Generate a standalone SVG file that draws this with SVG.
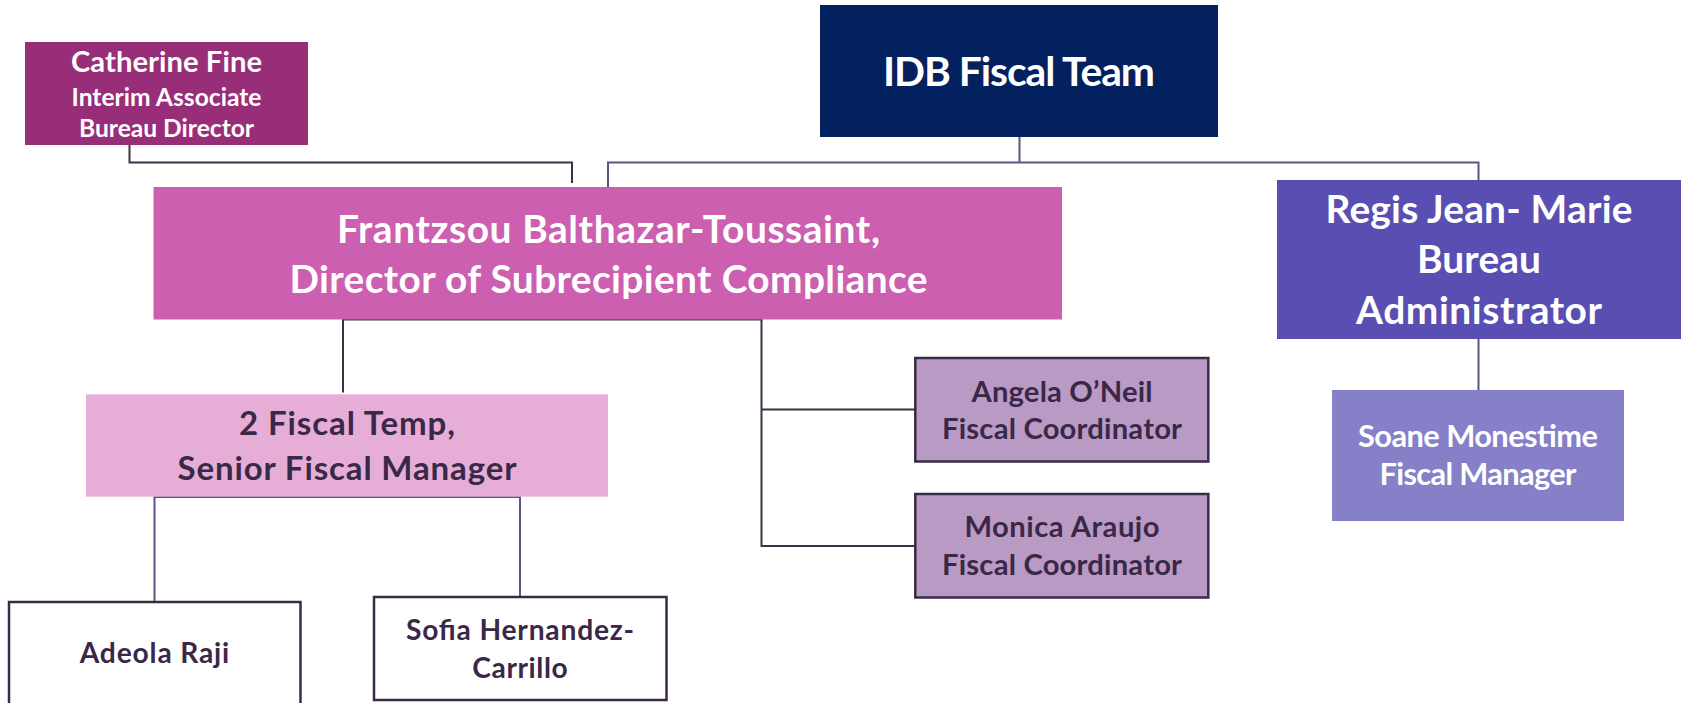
<svg xmlns="http://www.w3.org/2000/svg" width="1684" height="703" viewBox="0 0 1684 703">
  <style>
    text { font-family: Lato, "Open Sans", "Liberation Sans", sans-serif; font-weight: 700; text-anchor: middle; }
    .light { fill: #ffffff; }
    .dark { fill: #3a2848; }
    .wire { fill: none; stroke: #5a5787; stroke-width: 2; }
    .wire-dark { fill: none; stroke: #3d3147; stroke-width: 2; }
    .framed { stroke: #3a2a45; stroke-width: 2.5; }
  </style>
  <rect width="1684" height="703" fill="#ffffff"/>

  <!-- reporting lines -->
  <g id="connectors">
    <path class="wire-dark" d="M129.5 145 V162.5 H572 V183"/>
    <path class="wire" d="M1019.5 137 V162.5 M608 187 V162.5 H1478.5 V180"/>
    <path class="wire" d="M1478.5 339 V390"/>
    <path class="wire-dark" d="M343 392.5 V319.5 H761.5 V546 H915 M761.5 409.5 H915"/>
    <path class="wire" d="M154.5 601.5 V497 H520 V596.5"/>
  </g>

  <g id="catherine-fine">
    <rect x="25" y="42" width="283" height="103" fill="#992e78"/>
    <text class="light" x="166.5" y="71.7" font-size="29.2" textLength="191">Catherine Fine</text>
    <text class="light" x="166.5" y="106" font-size="24.6" textLength="190">Interim Associate</text>
    <text class="light" x="166.5" y="137.3" font-size="24.6" textLength="175">Bureau Director</text>
  </g>

  <g id="idb-fiscal-team">
    <rect x="820" y="5" width="398" height="132" fill="#03215f"/>
    <text class="light" x="1019" y="86" font-size="40.8" textLength="272">IDB Fiscal Team</text>
  </g>

  <g id="frantzsou-balthazar-toussaint">
    <rect x="153.5" y="187" width="908.5" height="132.5" fill="#cc5fb0"/>
    <text class="light" x="608.5" y="242.7" font-size="38.9" textLength="543">Frantzsou Balthazar-Toussaint,</text>
    <text class="light" x="608.5" y="292.7" font-size="38.9" textLength="638">Director of Subrecipient Compliance</text>
  </g>

  <g id="regis-jean-marie">
    <rect x="1277" y="180" width="404" height="159" fill="#594fb2"/>
    <text class="light" x="1479" y="222.7" font-size="38.9" textLength="307">Regis Jean- Marie</text>
    <text class="light" x="1479" y="273" font-size="38.9" textLength="124">Bureau</text>
    <text class="light" x="1479" y="324" font-size="38.9" textLength="246">Administrator</text>
  </g>

  <g id="soane-monestime">
    <rect x="1332" y="390" width="292" height="131" fill="#8580c8"/>
    <text class="light" x="1478" y="447.3" font-size="30.8" textLength="240">Soane Monestime</text>
    <text class="light" x="1478" y="485" font-size="30.8" textLength="197">Fiscal Manager</text>
  </g>

  <g id="fiscal-temp">
    <rect x="86" y="394.3" width="522" height="102.4" fill="#e6aed6"/>
    <text class="dark" x="347" y="435" font-size="33" textLength="216">2 Fiscal Temp,</text>
    <text class="dark" x="347" y="480" font-size="33" textLength="339">Senior Fiscal Manager</text>
  </g>

  <g id="angela-oneil">
    <rect class="framed" x="915.3" y="358" width="293" height="103.5" fill="#b99ac4"/>
    <text class="dark" x="1062" y="401.7" font-size="29.2" textLength="181">Angela O’Neil</text>
    <text class="dark" x="1062" y="439.3" font-size="29.2" textLength="240">Fiscal Coordinator</text>
  </g>

  <g id="monica-araujo">
    <rect class="framed" x="915.3" y="494" width="293" height="103.5" fill="#b99ac4"/>
    <text class="dark" x="1062" y="537.3" font-size="29.2" textLength="195">Monica Araujo</text>
    <text class="dark" x="1062" y="575.3" font-size="29.2" textLength="240">Fiscal Coordinator</text>
  </g>

  <g id="adeola-raji">
    <rect class="framed" x="9" y="602" width="291.5" height="120" fill="#ffffff"/>
    <text class="dark" x="154.5" y="662.7" font-size="28.2" textLength="149.5">Adeola Raji</text>
  </g>

  <g id="sofia-hernandez-carrillo">
    <rect class="framed" x="374" y="597" width="292.5" height="103" fill="#ffffff"/>
    <text class="dark" x="520" y="640" font-size="28.2" textLength="228">Sofia Hernandez-</text>
    <text class="dark" x="520" y="678.3" font-size="28.2" textLength="95.5">Carrillo</text>
  </g>
</svg>
